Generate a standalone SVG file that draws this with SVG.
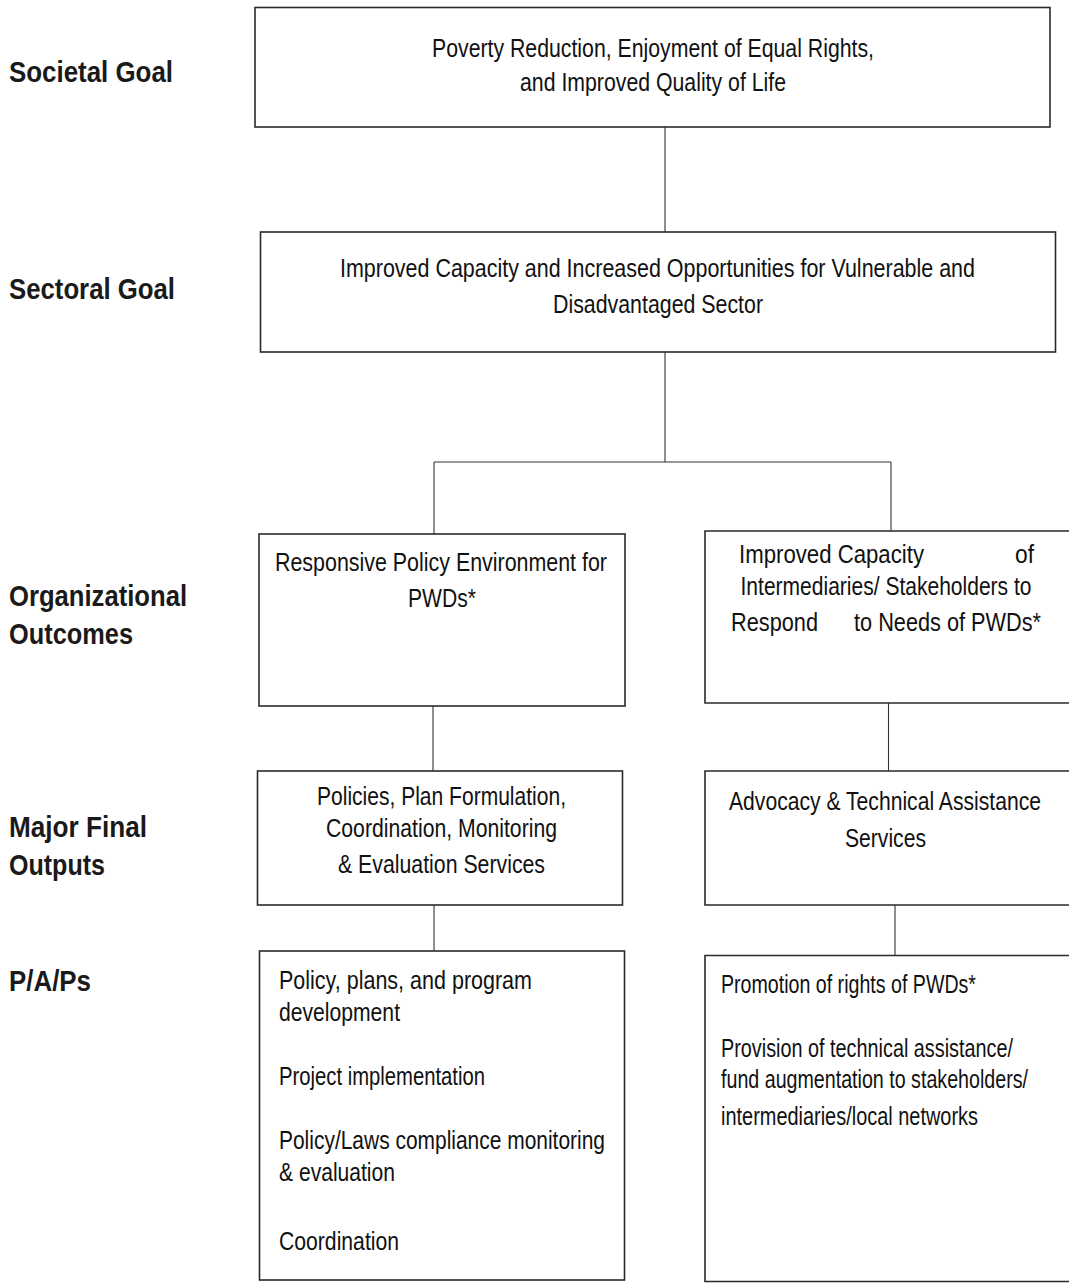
<svg xmlns="http://www.w3.org/2000/svg" width="1069" height="1284" viewBox="0 0 1069 1284">
<style>
.box{fill:#fff;stroke:#2a2a2a;stroke-width:1.6}
.con line{stroke:#333;stroke-width:1.1}
.t{font-family:"Liberation Sans",Arial,sans-serif;font-size:25px;fill:#111}
.lbl{font-family:"Liberation Sans",Arial,sans-serif;font-size:30px;font-weight:bold;fill:#1a1a1a}
</style>
<rect x="0" y="0" width="1069" height="1284" fill="#fff"/>
<g id="labels">
<text class="lbl" x="9" y="82" textLength="164" lengthAdjust="spacingAndGlyphs">Societal Goal</text>
<text class="lbl" x="9" y="299" textLength="166" lengthAdjust="spacingAndGlyphs">Sectoral Goal</text>
<text class="lbl" x="9" y="606" textLength="178" lengthAdjust="spacingAndGlyphs">Organizational</text>
<text class="lbl" x="9" y="643.5" textLength="124" lengthAdjust="spacingAndGlyphs">Outcomes</text>
<text class="lbl" x="9" y="837" textLength="138" lengthAdjust="spacingAndGlyphs">Major Final</text>
<text class="lbl" x="9" y="875" textLength="96" lengthAdjust="spacingAndGlyphs">Outputs</text>
<text class="lbl" x="9" y="991" textLength="82" lengthAdjust="spacingAndGlyphs">P/A/Ps</text>
</g>
<g id="connectors" class="con">
<line x1="665" y1="127" x2="665" y2="232"/>
<line x1="665" y1="352" x2="665" y2="462"/>
<line x1="434" y1="462" x2="891" y2="462"/>
<line x1="434" y1="462" x2="434" y2="534"/>
<line x1="891" y1="462" x2="891" y2="531"/>
<line x1="433" y1="706" x2="433" y2="771"/>
<line x1="888.5" y1="703" x2="888.5" y2="771"/>
<line x1="434" y1="905" x2="434" y2="951"/>
<line x1="895" y1="905" x2="895" y2="955.5"/>
</g>
<g id="societal">
<rect class="box" x="255" y="7.5" width="795" height="119.5"/>
<text class="t" x="432" y="56.5" textLength="442" lengthAdjust="spacingAndGlyphs">Poverty Reduction, Enjoyment of Equal Rights,</text>
<text class="t" x="520" y="91" textLength="266" lengthAdjust="spacingAndGlyphs">and Improved Quality of Life</text>
</g>
<g id="sectoral">
<rect class="box" x="260.5" y="232" width="795" height="120"/>
<text class="t" x="340" y="277" textLength="635" lengthAdjust="spacingAndGlyphs">Improved Capacity and Increased Opportunities for Vulnerable and</text>
<text class="t" x="553" y="313" textLength="210" lengthAdjust="spacingAndGlyphs">Disadvantaged Sector</text>
</g>
<g id="outcome-left">
<rect class="box" x="259" y="534" width="366" height="172"/>
<text class="t" x="275" y="571" textLength="332" lengthAdjust="spacingAndGlyphs">Responsive Policy Environment for</text>
<text class="t" x="408" y="607" textLength="68" lengthAdjust="spacingAndGlyphs">PWDs*</text>
</g>
<g id="outcome-right">
<path class="box" d="M1069,531 H705 V703 H1069"/>
<text class="t" x="739" y="563" textLength="185" lengthAdjust="spacingAndGlyphs">Improved Capacity</text>
<text class="t" x="1015" y="563" textLength="19" lengthAdjust="spacingAndGlyphs">of</text>
<text class="t" x="740.5" y="595" textLength="291" lengthAdjust="spacingAndGlyphs">Intermediaries/ Stakeholders to</text>
<text class="t" x="731" y="631" textLength="87" lengthAdjust="spacingAndGlyphs">Respond</text>
<text class="t" x="854" y="631" textLength="187" lengthAdjust="spacingAndGlyphs">to Needs of PWDs*</text>
</g>
<g id="output-left">
<rect class="box" x="257.5" y="771" width="365" height="134"/>
<text class="t" x="317" y="805" textLength="249" lengthAdjust="spacingAndGlyphs">Policies, Plan Formulation,</text>
<text class="t" x="326" y="837" textLength="231" lengthAdjust="spacingAndGlyphs">Coordination, Monitoring</text>
<text class="t" x="338" y="873" textLength="207" lengthAdjust="spacingAndGlyphs">&amp; Evaluation Services</text>
</g>
<g id="output-right">
<path class="box" d="M1069,771 H705 V905 H1069"/>
<text class="t" x="729" y="810" textLength="312" lengthAdjust="spacingAndGlyphs">Advocacy &amp; Technical Assistance</text>
<text class="t" x="845" y="847" textLength="81" lengthAdjust="spacingAndGlyphs">Services</text>
</g>
<g id="paps-left">
<rect class="box" x="259.5" y="951" width="365" height="329"/>
<text class="t" x="279" y="989" textLength="253" lengthAdjust="spacingAndGlyphs">Policy, plans, and program</text>
<text class="t" x="279" y="1021" textLength="121" lengthAdjust="spacingAndGlyphs">development</text>
<text class="t" x="279" y="1085" textLength="206" lengthAdjust="spacingAndGlyphs">Project implementation</text>
<text class="t" x="279" y="1149" textLength="326" lengthAdjust="spacingAndGlyphs">Policy/Laws compliance monitoring</text>
<text class="t" x="279" y="1181" textLength="116" lengthAdjust="spacingAndGlyphs">&amp; evaluation</text>
<text class="t" x="279" y="1250" textLength="120" lengthAdjust="spacingAndGlyphs">Coordination</text>
</g>
<g id="paps-right">
<path class="box" d="M1069,955.5 H705 V1281.5 H1069"/>
<text class="t" x="721" y="993" textLength="255" lengthAdjust="spacingAndGlyphs">Promotion of rights of PWDs*</text>
<text class="t" x="721" y="1057" textLength="292" lengthAdjust="spacingAndGlyphs">Provision of technical assistance/</text>
<text class="t" x="721" y="1088" textLength="307" lengthAdjust="spacingAndGlyphs">fund augmentation to stakeholders/</text>
<text class="t" x="721" y="1125" textLength="257" lengthAdjust="spacingAndGlyphs">intermediaries/local networks</text>
</g>
</svg>
